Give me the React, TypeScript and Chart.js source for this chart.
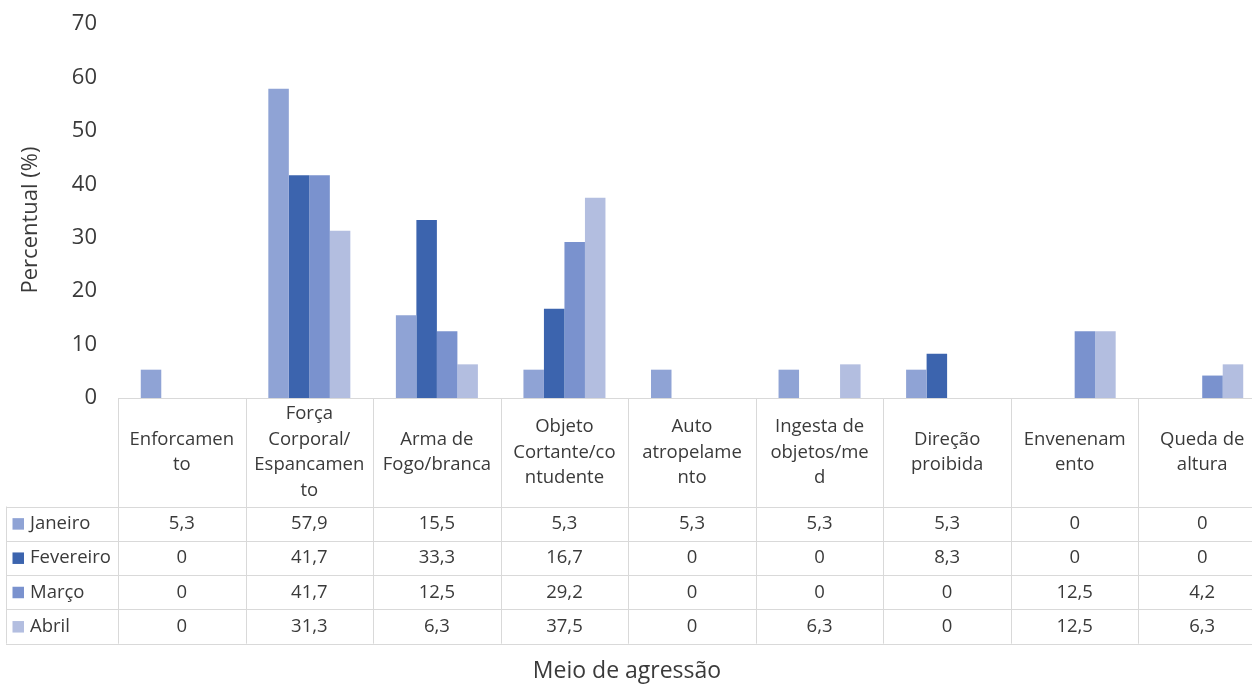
import React, { useEffect, useRef } from "react";
import { Chart, registerables } from "chart.js";

Chart.register(...registerables);

// ---- Data ----
const categories: string[][] = [
  ["Enforcamen", "to"],
  ["Força", "Corporal/", "Espancamen", "to"],
  ["Arma de", "Fogo/branca"],
  ["Objeto", "Cortante/co", "ntudente"],
  ["Auto", "atropelame", "nto"],
  ["Ingesta de", "objetos/me", "d"],
  ["Direção", "proibida"],
  ["Envenenam", "ento"],
  ["Queda de", "altura"],
];
const seriesNames = ["Janeiro", "Fevereiro", "Março", "Abril"];
const janeiro = [5.3, 57.9, 15.5, 5.3, 5.3, 5.3, 5.3, 0, 0];
const fevereiro = [0, 41.7, 33.3, 16.7, 0, 0, 8.3, 0, 0];
const marco = [0, 41.7, 12.5, 29.2, 0, 0, 0, 12.5, 4.2];
const abril = [0, 31.3, 6.3, 37.5, 0, 6.3, 0, 12.5, 6.3];
const yMin = 0;
const yMax = 70;
const yStep = 10;
const yTitle = "Percentual (%)";
const xTitle = "Meio de agressão";

const seriesValues = [janeiro, fevereiro, marco, abril];
const seriesColors = ["#8FA3D5", "#3C64AE", "#7A92CE", "#B3BEE0"];

const FONT = "'Open Sans', 'Noto Sans', sans-serif";
const TEXT = "#3A3A3A";
const GRID = "#D9D9D9";

const fmt = (v: number) => String(v).replace(".", ",");

const tablePlugin = {
  id: "dataTable",
  afterDraw(chart: any) {
    const ctx: CanvasRenderingContext2D = chart.ctx;
    const x = chart.scales.x;
    const n = categories.length;
    const colW = (x.right - x.left) / n;
    const top = chart.chartArea.bottom;
    const headerBottom = top + 108.5;
    const rowH = 34.3;
    const tableLeft = 6;
    const tableBottom = headerBottom + rowH * seriesNames.length;
    const right = x.right;

    ctx.save();
    ctx.strokeStyle = GRID;
    ctx.lineWidth = 1;
    const hline = (y: number, x0: number, x1: number) => {
      const yy = Math.round(y) + 0.5;
      ctx.beginPath();
      ctx.moveTo(x0, yy);
      ctx.lineTo(x1, yy);
      ctx.stroke();
    };
    const vline = (xp: number, y0: number, y1: number) => {
      const xx = Math.round(xp) + 0.5;
      ctx.beginPath();
      ctx.moveTo(xx, y0);
      ctx.lineTo(xx, y1);
      ctx.stroke();
    };
    hline(top, x.left, right);
    hline(headerBottom, tableLeft, right);
    for (let r = 1; r <= seriesNames.length; r++) {
      hline(headerBottom + rowH * r, tableLeft, right);
    }
    for (let k = 0; k <= n; k++) {
      vline(x.left + k * colW, top, tableBottom);
    }
    vline(tableLeft, headerBottom, tableBottom);

    ctx.fillStyle = TEXT;
    ctx.font = `18.5px ${FONT}`;
    ctx.textAlign = "center";
    ctx.textBaseline = "middle";
    const headerMid = (top + headerBottom) / 2;
    const lh = 25.5;
    categories.forEach((lines, i) => {
      const cx = x.getPixelForValue(i);
      const start = headerMid - ((lines.length - 1) * lh) / 2;
      lines.forEach((line, j) => ctx.fillText(line, cx, start + j * lh));
    });

    seriesNames.forEach((name, r) => {
      const cy = headerBottom + rowH * (r + 0.5);
      ctx.fillStyle = seriesColors[r];
      ctx.fillRect(12.5, cy - 5.5, 11.5, 11.5);
      ctx.fillStyle = TEXT;
      ctx.textAlign = "left";
      ctx.fillText(name, 30, cy);
      ctx.textAlign = "center";
      seriesValues[r].forEach((v, i) => {
        ctx.fillText(fmt(v), x.getPixelForValue(i), cy);
      });
    });

    ctx.font = `23px ${FONT}`;
    ctx.fillText(xTitle, 627, 671);

    ctx.translate(31, 220);
    ctx.rotate(-Math.PI / 2);
    ctx.font = `22px ${FONT}`;
    ctx.fillText(yTitle, 0, 0);
    ctx.restore();
  },
};

export default function App() {
  const ref = useRef<HTMLCanvasElement | null>(null);

  useEffect(() => {
    document.body.style.margin = "0";
    document.body.style.overflow = "hidden";
    document.documentElement.style.overflow = "hidden";
    const canvas = ref.current;
    if (!canvas) return;
    const chart = new Chart(canvas, {
      type: "bar",
      data: {
        labels: categories,
        datasets: seriesNames.map((name, i) => ({
          label: name,
          data: seriesValues[i],
          backgroundColor: seriesColors[i],
          borderWidth: 0,
          barPercentage: 1,
          categoryPercentage: 0.643,
        })),
      },
      options: {
        responsive: false,
        animation: false,
        devicePixelRatio: 1,
        layout: { padding: { top: 24, bottom: 288, left: 0, right: 0 } },
        plugins: {
          legend: { display: false },
          tooltip: { enabled: false },
          title: { display: false },
        },
        scales: {
          x: {
            display: false,
            offset: true,
          },
          y: {
            min: yMin,
            max: yMax,
            ticks: {
              stepSize: yStep,
              color: TEXT,
              font: { family: FONT, size: 22 },
              padding: 21,
            },
            grid: { display: false, drawTicks: false },
            border: { display: false },
            afterFit: (s: any) => {
              s.width = 118;
              s.paddingTop = 0;
              s.paddingBottom = 0;
            },
          },
        },
      },
      plugins: [tablePlugin],
    });
    return () => chart.destroy();
  }, []);

  return (
    <div style={{ width: 1266, height: 686, overflow: "hidden" }}>
      <canvas ref={ref} width={1266} height={686} style={{ display: "block" }} />
    </div>
  );
}
